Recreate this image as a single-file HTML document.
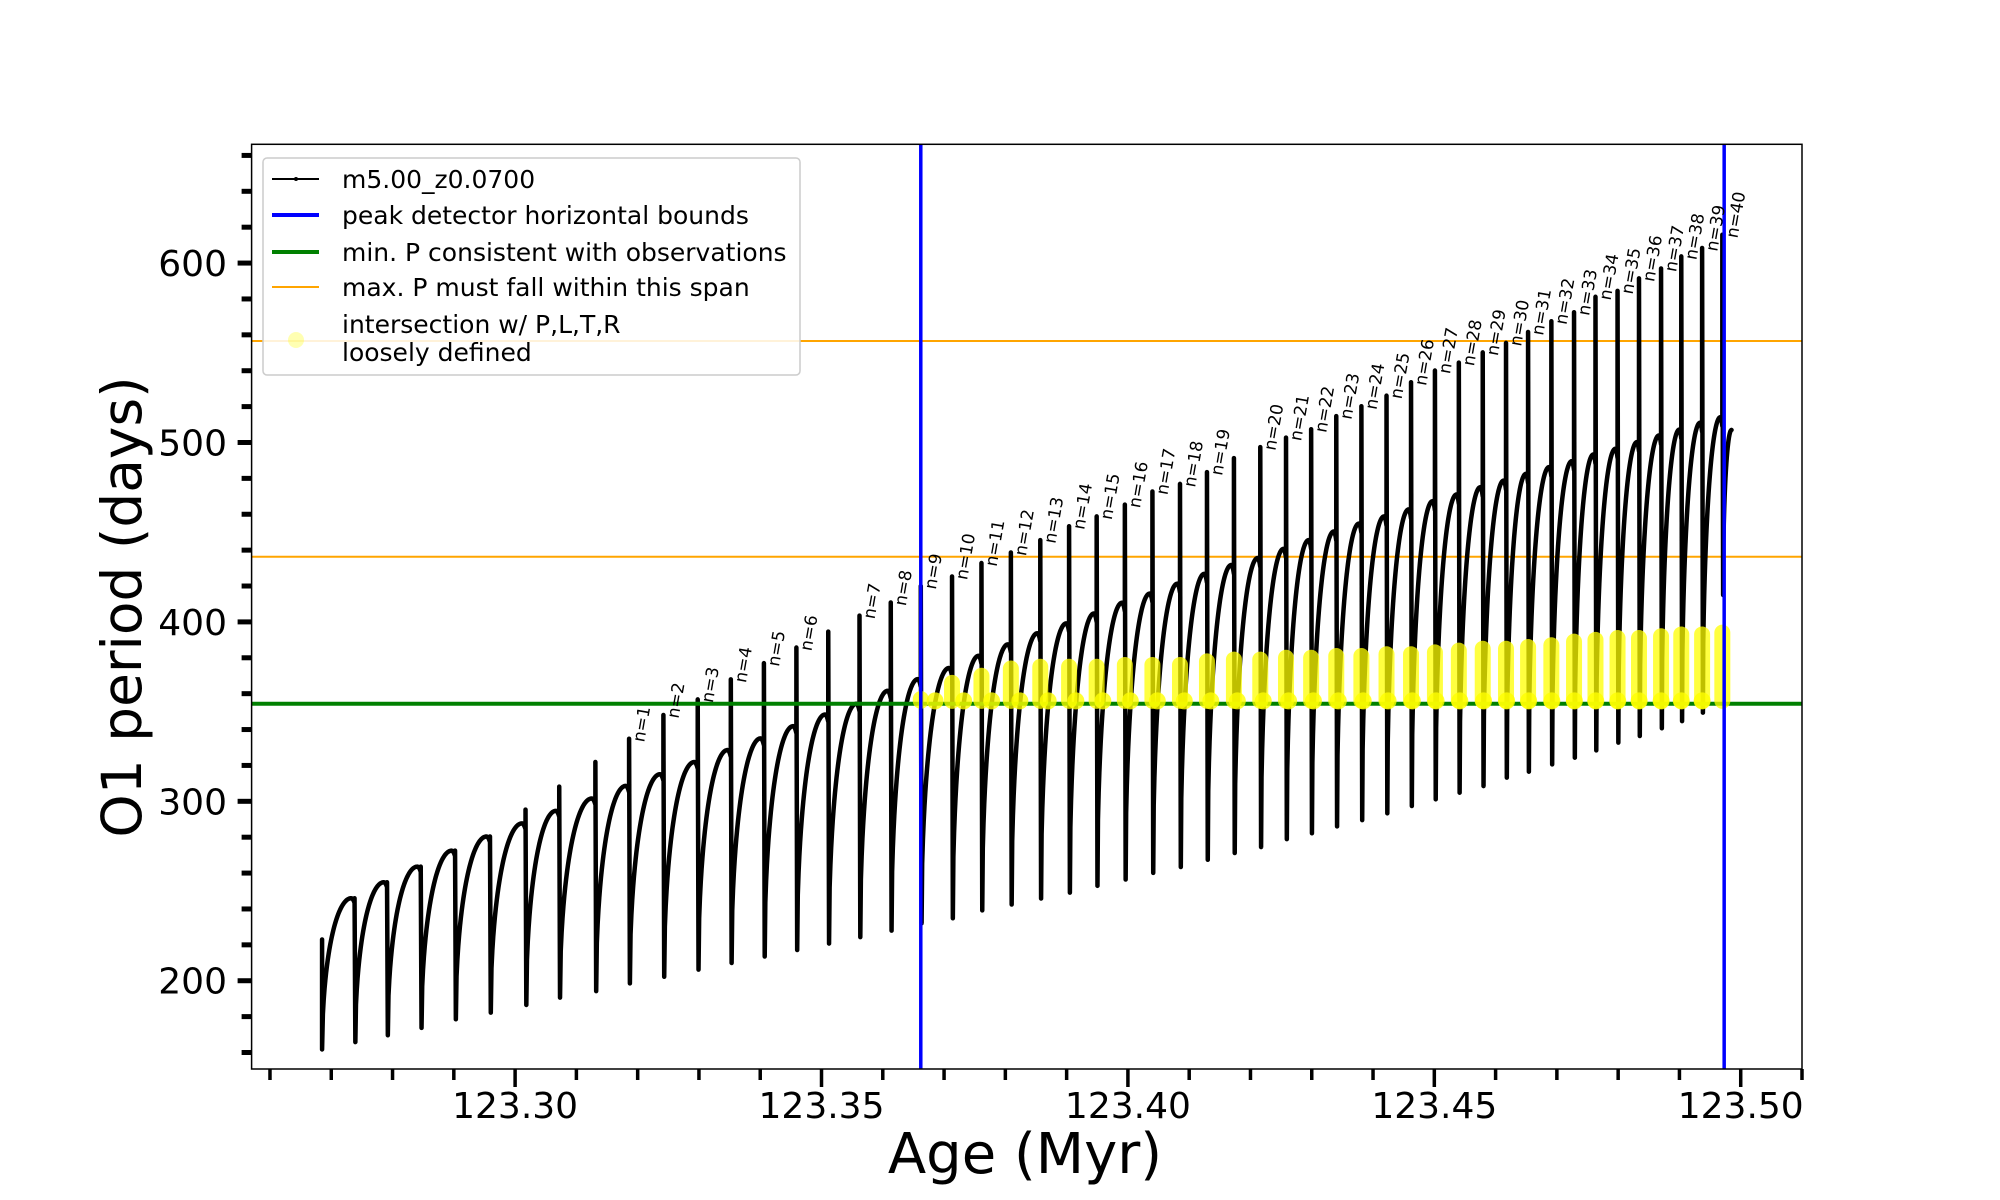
<!DOCTYPE html>
<html><head><meta charset="utf-8"><style>
body{margin:0;background:#fff}
svg text{font-family:"DejaVu Sans","Liberation Sans",sans-serif}
</style></head><body>
<svg id="chart" width="2000" height="1200" viewBox="0 0 2000 1200" xmlns="http://www.w3.org/2000/svg" style="position:absolute;left:0;top:0">
<rect width="2000" height="1200" fill="#fff"/>
<g id="plot"></g>
<g id="axes"></g>
</svg>
<script>
const startAge = 123.2685, startP = 223;
const dropAge = [123.2738,123.2791,123.2846,123.2902,123.2959,123.3017,123.3072,123.3131,123.3186,123.3242,123.3298,123.3352,123.3406,123.3459,123.3511,123.3562,123.3613,123.3662,
123.3713,123.3761,123.3809,123.3857,123.3904,123.3949,123.3995,123.4040,123.4085,123.4129,123.4173,123.4216,123.4258,123.4299,123.4340,123.4381,123.4422,
123.4462,123.4501,123.4540,123.4579,123.4617,123.4653,123.4691,123.4728,123.4763,123.4799,123.4834,123.4870,123.4903,123.4937,123.4970];
const maxBefore = [246.0,254.9,263.6,272.5,280.4,287.7,294.7,301.6,308.6,315.1,321.9,328.6,335.1,341.9,348.4,354.4,361.6,368.1,
374.3,381.1,387.5,393.7,399.2,404.7,410.7,415.8,421.3,426.8,431.7,435.6,440.7,445.6,450.4,454.8,458.8,
462.7,467.3,471.0,475.1,478.8,482.5,486.3,489.6,493.3,496.5,500.2,503.9,507.2,511.0,514.1];
const spikePeak = [246.0,254.9,263.6,272.5,280.4,295.4,308.2,321.9,334.9,348.1,356.8,368.0,377.0,385.7,394.6,403.5,410.8,420,
425.3,432.8,438.7,445.6,453.3,458.8,465.4,472.7,476.9,483.5,491.3,497.4,502.7,507.4,514.7,520.2,526.1,
533.6,540.1,544.5,550.2,555.5,561.6,567.6,572.6,581.2,584.5,591.5,597.0,603.7,608.4,615.8];
const dips = [161.7,165.8,169.6,173.7,178.5,182.2,186.5,190.6,194.2,198.5,202.2,206.2,209.9,213.5,217.1,220.7,224.3,227.9,232,
234.8,239.2,242.5,245.8,249.1,252.9,256.4,260.1,263.4,267.4,271.2,274.5,278.9,282.2,286.0,289.5,293.3,
297.4,301.1,304.8,308.5,313.2,316.5,320.6,324.3,328.4,332.7,336.4,340.7,344.7,349.4,415];
const nLabels = [0,0,0,0,0,0,0,0,1,2,3,4,5,6,0,7,8,9,10,11,12,13,14,15,16,17,18,19,0,20,21,22,23,24,25,26,27,28,29,30,31,32,33,34,35,36,37,38,39,40];
const endAge = 123.4985, endP = 507;
const yellowFirst = 17;
const yellowTop = [357,366,370,374,375,375,375,376,376,376,378,379,379,380,380,381,381,382,382,383,384,385,385,386,387,389,390,391,391,392,393,393,394];
const blueAges = [123.3662,123.4973];
const greenP = 354.4;
const orangeP = [556.6,436.3];
const xTicksMajor = [123.30,123.35,123.40,123.45,123.50];
const xTickLabels = ["123.30","123.35","123.40","123.45","123.50"];
const yTicksMajor = [200,300,400,500,600];

const X0=251.6,X1=1802,Y0=1069,Y1=144.3, AMIN=123.257, AMAX=123.510, PMIN=150.8, PMAX=666.2;
const X = a => X0 + (a-AMIN)*(X1-X0)/(AMAX-AMIN);
const Y = p => Y0 - (p-PMIN)*(Y0-Y1)/(PMAX-PMIN);
const NS="http://www.w3.org/2000/svg";
const plot=document.getElementById('plot'), axes=document.getElementById('axes');
function mk(tag,attrs,parent){const e=document.createElementNS(NS,tag);for(const k in attrs)e.setAttribute(k,attrs[k]);parent.appendChild(e);return e;}
const shape = u => { if(u<=0.9){const v=u/0.9;return Math.sqrt(Math.max(0,1-(1-v)*(1-v)));} const w=(u-0.9)/0.1; return 1-0.03*w*w; };

const defs=mk('defs',{},plot);
const cp=mk('clipPath',{id:'clip'},defs); mk('rect',{x:X0,y:Y1,width:X1-X0,height:Y0-Y1},cp);
const g=mk('g',{'clip-path':'url(#clip)'},plot);

orangeP.forEach(p=>{
  const l=mk('line',{x1:X0,x2:X1,y1:Y(p),y2:Y(p),stroke:'#ffa500','stroke-width':2},g);
  
  
});

let d=`M${X(startAge)},${Y(startP)} L${X(startAge)},${Y(dips[0])}`;
let prevAge=startAge;
for(let i=0;i<dropAge.length;i++){
  const a0=prevAge,a1=dropAge[i],lo=dips[i],hi=maxBefore[i];
  const N=40;
  for(let k=1;k<=N;k++){const u=k/N;const t=a0+(a1-a0)*u;d+=` L${X(t).toFixed(2)},${Y(lo+(hi-lo)*shape(u)).toFixed(2)}`;}
  d+=` L${X(a1)},${Y(spikePeak[i])} L${X(a1)+0.8},${Y(dips[i+1])}`;
  prevAge=a1+0.0001;
}
{const a0=prevAge,lo=dips[dips.length-1];for(let k=1;k<=20;k++){const u=k/20;d+=` L${X(a0+(endAge-a0)*u).toFixed(2)},${Y(lo+(endP-lo)*Math.sqrt(1-(1-u)*(1-u))).toFixed(2)}`;}}
const curve=mk('path',{d:d,fill:'none',stroke:'#000','stroke-width':4.5,'stroke-linejoin':'round','stroke-linecap':'round'},g);



const gl=mk('line',{x1:X0,x2:X1,y1:Y(greenP),y2:Y(greenP),stroke:'#008000','stroke-width':4},g);



for(let j=0;j<yellowTop.length;j++){
  const i=yellowFirst+j;
  const xa=X(dropAge[i]), top=Y(yellowTop[j]), bot=Y(356);
  const r=mk('rect',{x:xa-8,y:top-8,width:16,height:Math.max(16,bot-top+16),rx:8,fill:'#ffff00','fill-opacity':0.75},g);
  
  
  const lo=dips[i+1];
  if(i+1<dropAge.length){
    const hi=maxBefore[i+1], f=(356-lo)/(hi-lo);
    if(f>0&&f<1){const v=1-Math.sqrt(1-f*f);const u=v*0.9;const t=dropAge[i]+(dropAge[i+1]-dropAge[i])*u;
      const c=mk('circle',{cx:X(t),cy:Y(356),r:8.5,fill:'#ffff00','fill-opacity':0.8},g);
      
      }
  }
}

blueAges.forEach(a=>{
  const l=mk('line',{x1:X(a),x2:X(a),y1:Y1,y2:Y0,stroke:'#0000ff','stroke-width':3.5},g);
  
  
});

nLabels.forEach((n,i)=>{
  if(!n)return;
  const x=X(dropAge[i])+15, y=Y(spikePeak[i])+4;
  const t=mk('text',{x:x,y:y,'font-size':17,transform:`rotate(-80 ${x} ${y})`,fill:'#000'},g);
  t.textContent='n='+n;
  
  
});

const fr=mk('rect',{x:X0,y:Y1,width:X1-X0,height:Y0-Y1,fill:'none',stroke:'#000','stroke-width':1.5},axes);



for(let p=160;p<=660;p+=20){
  const major=p%100===0;
  mk('line',{x1:X0,x2:X0-(major?14:10),y1:Y(p),y2:Y(p),stroke:'#000','stroke-width':5},axes);
}
yTicksMajor.forEach(p=>{
  const t=mk('text',{x:227,y:Y(p)+13,'font-size':36,'text-anchor':'end'},axes);
  t.textContent=String(p);
  
  
});
for(let k=0;k<=25;k++){
  const a=123.26+k*0.01;
  const major=Math.round(a*100)%5===0;
  mk('line',{x1:X(a),x2:X(a),y1:Y0,y2:Y0+(major?18:11),stroke:'#000','stroke-width':3.5},axes);
}
xTicksMajor.forEach((a,i)=>{
  const t=mk('text',{x:X(a),y:1118,'font-size':36,'text-anchor':'middle'},axes);
  t.textContent=xTickLabels[i];
  
  
});
</script>
<svg style="position:absolute;left:0;top:0" width="2000" height="1200">
<text x="1025" y="1173" font-size="56" text-anchor="middle" font-family="DejaVu Sans, Liberation Sans, sans-serif">Age (Myr)</text>
<text x="0" y="0" font-size="55" text-anchor="middle" transform="translate(141 607) rotate(-90)" font-family="DejaVu Sans, Liberation Sans, sans-serif">O1 period (days)</text>
<g font-family="DejaVu Sans, Liberation Sans, sans-serif" font-size="25">
<rect x="263" y="158" width="537" height="217" rx="4" fill="#fff" fill-opacity="0.85" stroke="#ccc" stroke-width="1.5"/>
<g><line x1="272" x2="319" y1="179" y2="179" stroke="#000" stroke-width="2"/><circle cx="296" cy="179" r="2" fill="#000"/><text x="342" y="188">m5.00_z0.0700</text></g>
<g><line x1="272" x2="319" y1="215" y2="215" stroke="#0000ff" stroke-width="4"/><text x="342" y="224">peak detector horizontal bounds</text></g>
<g><line x1="272" x2="319" y1="252" y2="252" stroke="#008000" stroke-width="4"/><text x="342" y="261">min. P consistent with observations</text></g>
<g><line x1="272" x2="319" y1="287" y2="287" stroke="#ffa500" stroke-width="2"/><text x="342" y="296">max. P must fall within this span</text></g>
<g><circle cx="296" cy="340" r="8" fill="#ffff00" fill-opacity="0.3"/><text x="342" y="333">intersection w/ P,L,T,R</text><text x="342" y="361">loosely defined</text></g>
</g>
</svg>
</body></html>
